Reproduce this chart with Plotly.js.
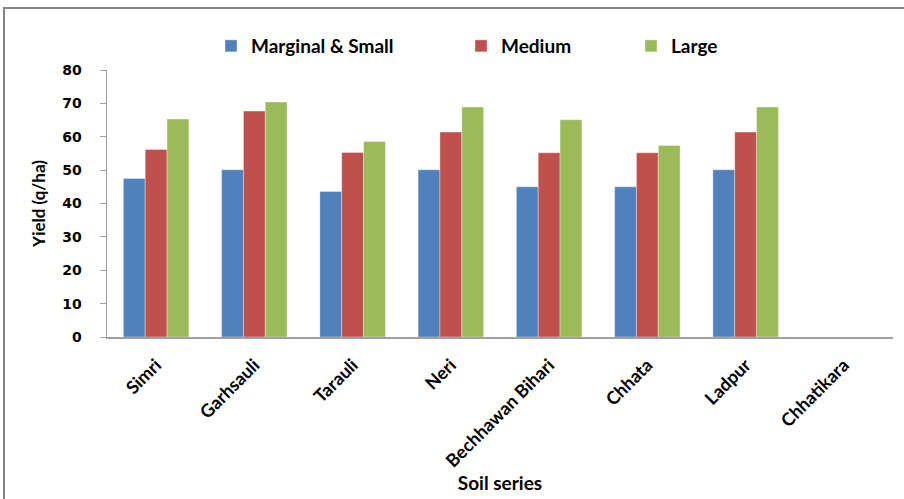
<!DOCTYPE html>
<html>
<head>
<meta charset="utf-8">
<script src="https://cdn.plot.ly/plotly-3.0.1.min.js"></script>
<style>
html,body{margin:0;padding:0;background:#fff;}
#chart{width:904px;height:499px;}
</style>
</head>
<body>
<div id="chart"></div>
<script>
const categories = ["Simri", "Garhsauli", "Tarauli", "Neri", "Bechhawan Bihari", "Chhata", "Ladpur", "Chhatikara"];
const seriesNames = ["Marginal & Small", "Medium", "Large"];
const marginalSmall = [47.5, 50.1, 43.6, 50.1, 45.0, 45.0, 50.1, null];
const medium = [56.2, 67.7, 55.3, 61.4, 55.2, 55.2, 61.4, null];
const large = [65.3, 70.4, 58.6, 68.9, 65.1, 57.4, 68.9, null];
const yTicks = [0, 10, 20, 30, 40, 50, 60, 70, 80];

const colors = ["#4F81BD", "#C0504D", "#9BBB59"];
const values = [marginalSmall, medium, large];
const legends = ["legend", "legend2", "legend3"];

const traces = values.map((v, i) => ({
  type: "bar",
  name: seriesNames[i],
  x: categories,
  y: v,
  marker: {color: colors[i], line: {color: "rgba(255,255,255,0.6)", width: 0.6}},
  legend: legends[i],
  hoverinfo: "x+y+name"
}));

const W = 904, H = 499;
const m = {l: 107, r: 11, t: 70, b: 162};
const pw = W - m.l - m.r, ph = H - m.t - m.b;
const px = x => (x - m.l) / pw;
const py = y => (H - m.b - y) / ph;

const calib = "Lato, 'Open Sans', sans-serif";
const legFont = {family: calib, size: 19, color: "#000", weight: "bold"};
function leg(xpix) {
  return {orientation: "h", x: px(xpix), y: py(46), xanchor: "left", yanchor: "middle",
          font: legFont, bgcolor: "rgba(0,0,0,0)", itemwidth: 30, tracegroupgap: 0};
}

const layout = {
  width: W, height: H,
  margin: m,
  paper_bgcolor: "#fff",
  plot_bgcolor: "#fff",
  barmode: "group",
  bargap: 0.333,
  bargroupgap: 0,
  showlegend: true,
  legend: leg(211),
  legend2: leg(461),
  legend3: leg(631),
  xaxis: {
    type: "category",
    range: [-0.5, categories.length - 0.5],
    tickangle: -45,
    tickfont: {family: calib, size: 18, color: "#000", weight: "bold"},
    ticklabelstandoff: 9,
    showline: true, linecolor: "#A0A0A0", linewidth: 1.5,
    ticks: "", showgrid: false, zeroline: false,
    title: {text: "Soil series", font: {family: calib, size: 19, color: "#000", weight: "bold"}, standoff: 2}
  },
  yaxis: {
    range: [0, 80],
    tickvals: yTicks,
    ticktext: yTicks.map(String),
    tickfont: {family: "'DejaVu Sans', Verdana, sans-serif", size: 14, color: "#000", weight: "bold"},
    ticklabelstandoff: 15,
    showline: true, linecolor: "#A0A0A0", linewidth: 1.5,
    ticks: "outside", ticklen: 6, tickcolor: "#A0A0A0", tickwidth: 1,
    showgrid: false, zeroline: false,
    title: {text: "Yield (q/ha)", font: {family: calib, size: 17, color: "#000", weight: "bold"}, standoff: 12}
  },
  shapes: [{
    type: "rect", xref: "paper", yref: "paper",
    x0: px(4), x1: px(920), y0: py(520), y1: py(8),
    line: {color: "#868686", width: 2}, fillcolor: "rgba(0,0,0,0)", layer: "below"
  }]
};

Plotly.newPlot("chart", traces, layout, {displayModeBar: false, staticPlot: true});
</script>
</body>
</html>
